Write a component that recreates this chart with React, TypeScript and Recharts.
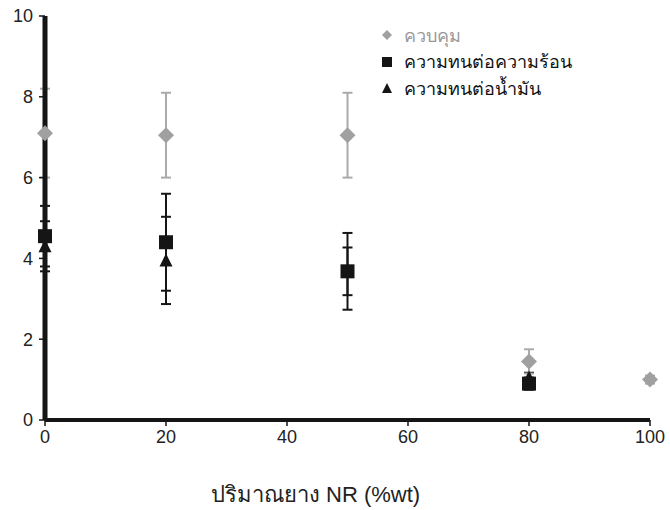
import React from 'react';
import { ScatterChart, Scatter, XAxis, YAxis, ErrorBar, Label } from 'recharts';

const nrContent = [0, 20, 50, 80, 100];
const controlMean = [7.1, 7.05, 7.05, 1.45, 1.0];
const controlErr = [1.1, 1.05, 1.05, 0.3, 0.1];
const heatMean = [4.55, 4.4, 3.68, 0.9];
const heatErr = [0.75, 1.2, 0.95, 0.15];
const oilMean = [4.3, 3.95, 3.68, 1.05];
const oilErr = [0.62, 1.08, 0.59, 0.12];
const xTicks = [0, 20, 40, 60, 80, 100];
const yTicks = [0, 2, 4, 6, 8, 10];

const GRAY = '#a0a0a0';
const BLACK = '#151515';

const legendItems = [
  { name: 'ควบคุม', color: GRAY, shape: 'diamond' },
  { name: 'ความทนต่อความร้อน', color: BLACK, shape: 'square' },
  { name: 'ความทนต่อน้ำมัน', color: BLACK, shape: 'triangle' },
];

const toRows = (means: number[], errs: number[]) =>
  means.map((m, i) => ({ x: nrContent[i], y: m, err: errs[i] }));

const controlData = toRows(controlMean, controlErr);
const heatData = toRows(heatMean, heatErr);
const oilData = toRows(oilMean, oilErr);

const font = 'Liberation Sans, Arial, sans-serif';

// marker shapes sized like the original plot
const diamondShape = (p: any) => (
  <polygon
    points={`${p.cx},${p.cy - 8} ${p.cx + 8},${p.cy} ${p.cx},${p.cy + 8} ${p.cx - 8},${p.cy}`}
    fill={GRAY}
  />
);
const squareShape = (p: any) => <rect x={p.cx - 7} y={p.cy - 7} width={14} height={14} fill={BLACK} />;
const triangleShape = (p: any) => (
  <polygon points={`${p.cx},${p.cy - 7} ${p.cx + 6.5},${p.cy + 6} ${p.cx - 6.5},${p.cy + 6}`} fill={BLACK} />
);

function LegendMarker({ shape, color }: { shape: string; color: string }) {
  return (
    <svg width={12} height={12} style={{ marginRight: 11 }}>
      {shape === 'diamond' && <polygon points="6,1 11,6 6,11 1,6" fill={color} />}
      {shape === 'square' && <rect x={1} y={1} width={10} height={10} fill={color} />}
      {shape === 'triangle' && <polygon points="6,1 11,11 1,11" fill={color} />}
    </svg>
  );
}

export default function App() {
  return (
    <div style={{ position: 'absolute', left: 0, top: 0, width: 670, height: 510, background: '#fff' }}>
      <ScatterChart width={670} height={510} margin={{ top: 16, right: 20, bottom: 60, left: 5 }}>
        <XAxis
          type="number"
          dataKey="x"
          domain={[0, 100]}
          ticks={xTicks}
          axisLine={{ stroke: BLACK, strokeWidth: 4 }}
          tickLine={{ stroke: BLACK, strokeWidth: 1.5 }}
          tickSize={6}
          tickMargin={4}
          tick={{ fill: '#222', fontSize: 18, fontFamily: font }}
          height={30}
        >
          <Label
            value="ปริมาณยาง NR (%wt)"
            position="bottom"
            offset={36}
            dx={-32}
            style={{ fill: '#222', fontSize: 22, fontFamily: font }}
          />
        </XAxis>
        <YAxis
          type="number"
          dataKey="y"
          domain={[0, 10]}
          ticks={yTicks}
          axisLine={{ stroke: BLACK, strokeWidth: 5 }}
          tickLine={{ stroke: BLACK, strokeWidth: 1.5 }}
          tickSize={6}
          tickMargin={6}
          tick={{ fill: '#222', fontSize: 18, fontFamily: font }}
          width={40}
        />
        <Scatter data={oilData} shape={triangleShape} isAnimationActive={false}>
          <ErrorBar dataKey="err" direction="y" width={5} stroke={BLACK} strokeWidth={2} />
        </Scatter>
        <Scatter data={heatData} shape={squareShape} isAnimationActive={false}>
          <ErrorBar dataKey="err" direction="y" width={5} stroke={BLACK} strokeWidth={2} />
        </Scatter>
        <Scatter data={controlData} shape={diamondShape} isAnimationActive={false}>
          <ErrorBar dataKey="err" direction="y" width={5} stroke="#aaa" strokeWidth={2} />
        </Scatter>
      </ScatterChart>
      <div style={{ position: 'absolute', left: 381, top: 22, fontFamily: font, fontSize: 18 }}>
        {legendItems.map((item) => (
          <div
            key={item.name}
            style={{ display: 'flex', alignItems: 'center', height: 26.5, color: item.shape === 'diamond' ? '#999' : '#111' }}
          >
            <LegendMarker shape={item.shape} color={item.color} />
            <span>{item.name}</span>
          </div>
        ))}
      </div>
    </div>
  );
}
